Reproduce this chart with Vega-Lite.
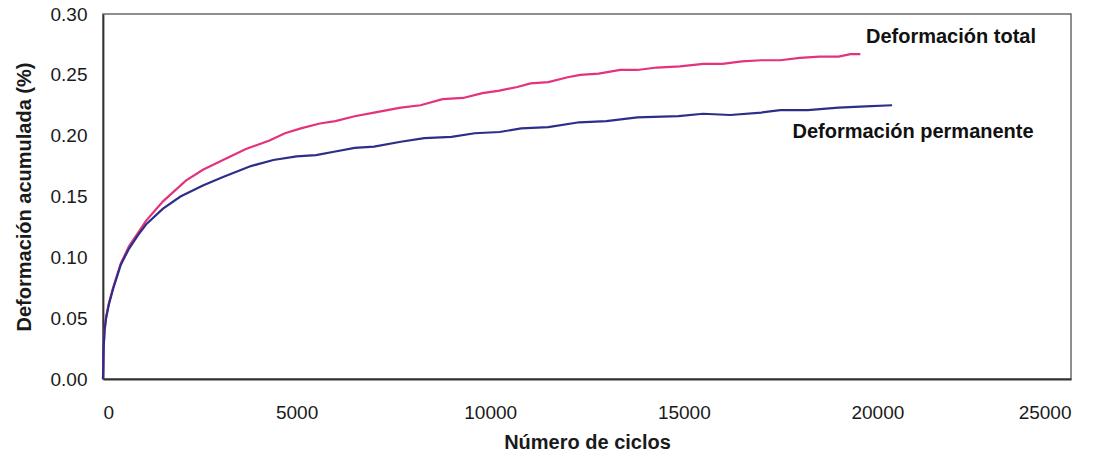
{
  "$schema": "https://vega.github.io/schema/vega-lite/v6.json",
  "width": 968,
  "height": 365,
  "autosize": {"type": "none"},
  "padding": {"left": 103, "top": 14, "right": 35, "bottom": 85},
  "background": "white",
  "config": {
    "font": "Liberation Sans",
    "view": {"stroke": "#6a6a6a", "strokeWidth": 1.5},
    "axis": {"grid": false, "ticks": false, "domainColor": "#333333", "domainWidth": 1.8, "labelFont": "Liberation Sans", "labelFontSize": 19, "labelColor": "#1a1a1a", "titleFont": "Liberation Sans", "titleFontSize": 20, "titleFontWeight": "bold", "titleColor": "#1a1a1a"}
  },
  "datasets": {
    "curvas": [
      {"ciclos": 0, "def": 0, "serie": "total"},
      {"ciclos": 15, "def": 0.025, "serie": "total"},
      {"ciclos": 40, "def": 0.04, "serie": "total"},
      {"ciclos": 80, "def": 0.051, "serie": "total"},
      {"ciclos": 150, "def": 0.062, "serie": "total"},
      {"ciclos": 260, "def": 0.075, "serie": "total"},
      {"ciclos": 460, "def": 0.095, "serie": "total"},
      {"ciclos": 670, "def": 0.109, "serie": "total"},
      {"ciclos": 900, "def": 0.120, "serie": "total"},
      {"ciclos": 1110, "def": 0.130, "serie": "total"},
      {"ciclos": 1550, "def": 0.146, "serie": "total"},
      {"ciclos": 2140, "def": 0.163, "serie": "total"},
      {"ciclos": 2580, "def": 0.172, "serie": "total"},
      {"ciclos": 3100, "def": 0.180, "serie": "total"},
      {"ciclos": 3690, "def": 0.189, "serie": "total"},
      {"ciclos": 4300, "def": 0.196, "serie": "total"},
      {"ciclos": 4700, "def": 0.202, "serie": "total"},
      {"ciclos": 5110, "def": 0.206, "serie": "total"},
      {"ciclos": 5600, "def": 0.210, "serie": "total"},
      {"ciclos": 6000, "def": 0.212, "serie": "total"},
      {"ciclos": 6500, "def": 0.216, "serie": "total"},
      {"ciclos": 7000, "def": 0.219, "serie": "total"},
      {"ciclos": 7690, "def": 0.223, "serie": "total"},
      {"ciclos": 8200, "def": 0.225, "serie": "total"},
      {"ciclos": 8770, "def": 0.230, "serie": "total"},
      {"ciclos": 9300, "def": 0.231, "serie": "total"},
      {"ciclos": 9800, "def": 0.235, "serie": "total"},
      {"ciclos": 10240, "def": 0.237, "serie": "total"},
      {"ciclos": 10700, "def": 0.240, "serie": "total"},
      {"ciclos": 11040, "def": 0.243, "serie": "total"},
      {"ciclos": 11500, "def": 0.244, "serie": "total"},
      {"ciclos": 12000, "def": 0.248, "serie": "total"},
      {"ciclos": 12330, "def": 0.250, "serie": "total"},
      {"ciclos": 12800, "def": 0.251, "serie": "total"},
      {"ciclos": 13360, "def": 0.254, "serie": "total"},
      {"ciclos": 13800, "def": 0.254, "serie": "total"},
      {"ciclos": 14300, "def": 0.256, "serie": "total"},
      {"ciclos": 14900, "def": 0.257, "serie": "total"},
      {"ciclos": 15500, "def": 0.259, "serie": "total"},
      {"ciclos": 16000, "def": 0.259, "serie": "total"},
      {"ciclos": 16500, "def": 0.261, "serie": "total"},
      {"ciclos": 17000, "def": 0.262, "serie": "total"},
      {"ciclos": 17490, "def": 0.262, "serie": "total"},
      {"ciclos": 18000, "def": 0.264, "serie": "total"},
      {"ciclos": 18500, "def": 0.265, "serie": "total"},
      {"ciclos": 19000, "def": 0.265, "serie": "total"},
      {"ciclos": 19300, "def": 0.267, "serie": "total"},
      {"ciclos": 19560, "def": 0.267, "serie": "total"},
      {"ciclos": 0, "def": 0, "serie": "perm"},
      {"ciclos": 15, "def": 0.025, "serie": "perm"},
      {"ciclos": 40, "def": 0.04, "serie": "perm"},
      {"ciclos": 80, "def": 0.05, "serie": "perm"},
      {"ciclos": 150, "def": 0.061, "serie": "perm"},
      {"ciclos": 260, "def": 0.074, "serie": "perm"},
      {"ciclos": 460, "def": 0.094, "serie": "perm"},
      {"ciclos": 670, "def": 0.107, "serie": "perm"},
      {"ciclos": 900, "def": 0.118, "serie": "perm"},
      {"ciclos": 1110, "def": 0.127, "serie": "perm"},
      {"ciclos": 1550, "def": 0.140, "serie": "perm"},
      {"ciclos": 2000, "def": 0.150, "serie": "perm"},
      {"ciclos": 2580, "def": 0.159, "serie": "perm"},
      {"ciclos": 3100, "def": 0.166, "serie": "perm"},
      {"ciclos": 3820, "def": 0.175, "serie": "perm"},
      {"ciclos": 4400, "def": 0.180, "serie": "perm"},
      {"ciclos": 5000, "def": 0.183, "serie": "perm"},
      {"ciclos": 5500, "def": 0.184, "serie": "perm"},
      {"ciclos": 6000, "def": 0.187, "serie": "perm"},
      {"ciclos": 6500, "def": 0.190, "serie": "perm"},
      {"ciclos": 7000, "def": 0.191, "serie": "perm"},
      {"ciclos": 7690, "def": 0.195, "serie": "perm"},
      {"ciclos": 8300, "def": 0.198, "serie": "perm"},
      {"ciclos": 9000, "def": 0.199, "serie": "perm"},
      {"ciclos": 9600, "def": 0.202, "serie": "perm"},
      {"ciclos": 10240, "def": 0.203, "serie": "perm"},
      {"ciclos": 10800, "def": 0.206, "serie": "perm"},
      {"ciclos": 11500, "def": 0.207, "serie": "perm"},
      {"ciclos": 12300, "def": 0.211, "serie": "perm"},
      {"ciclos": 13000, "def": 0.212, "serie": "perm"},
      {"ciclos": 13800, "def": 0.215, "serie": "perm"},
      {"ciclos": 14860, "def": 0.216, "serie": "perm"},
      {"ciclos": 15500, "def": 0.218, "serie": "perm"},
      {"ciclos": 16200, "def": 0.217, "serie": "perm"},
      {"ciclos": 17000, "def": 0.219, "serie": "perm"},
      {"ciclos": 17490, "def": 0.221, "serie": "perm"},
      {"ciclos": 18200, "def": 0.221, "serie": "perm"},
      {"ciclos": 19000, "def": 0.223, "serie": "perm"},
      {"ciclos": 19700, "def": 0.224, "serie": "perm"},
      {"ciclos": 20380, "def": 0.225, "serie": "perm"}
    ],
    "etiquetas": [
      {"ciclos": 21900, "def": 0.281, "texto": "Deformación total"},
      {"ciclos": 20920, "def": 0.203, "texto": "Deformación permanente"}
    ]
  },
  "layer": [
    {
      "data": {"name": "curvas"},
      "mark": {"type": "line", "strokeWidth": 2.2},
      "encoding": {
        "x": {"field": "ciclos", "type": "quantitative", "scale": {"domain": [0, 25000], "nice": false}, "axis": {"title": "Número de ciclos", "values": [0, 5000, 10000, 15000, 20000, 25000], "format": "d", "labelPadding": 24, "titlePadding": 10}},
        "y": {"field": "def", "type": "quantitative", "scale": {"domain": [0, 0.3], "nice": false}, "axis": {"title": "Deformación acumulada (%)", "values": [0, 0.05, 0.1, 0.15, 0.2, 0.25, 0.3], "format": ".2f", "labelPadding": 16, "titlePadding": 16}},
        "color": {"field": "serie", "type": "nominal", "scale": {"domain": ["total", "perm"], "range": ["#e4327c", "#2c2f88"]}, "legend": null},
        "detail": {"field": "serie"}
      }
    },
    {
      "data": {"name": "etiquetas"},
      "mark": {"type": "text", "font": "Liberation Sans", "fontSize": 20, "fontWeight": "bold", "color": "#111111", "align": "center", "baseline": "middle"},
      "encoding": {
        "x": {"field": "ciclos", "type": "quantitative"},
        "y": {"field": "def", "type": "quantitative"},
        "text": {"field": "texto"}
      }
    }
  ]
}
